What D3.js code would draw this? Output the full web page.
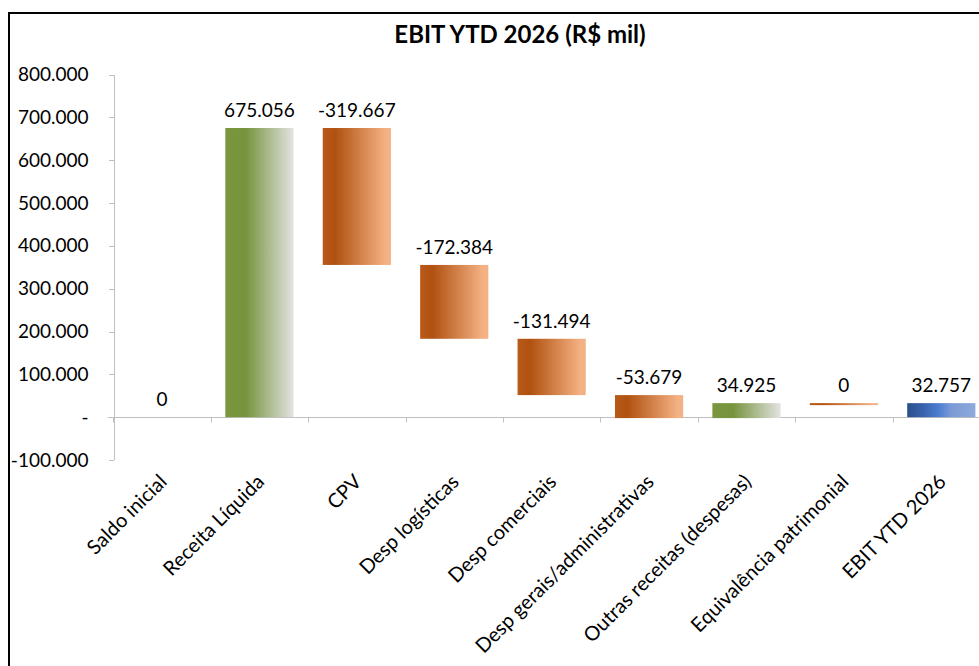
<!DOCTYPE html>
<html>

<head>
  <meta charset="utf-8">
  <script src="https://d3js.org/d3.v7.min.js"></script>
  <style>
    body {
      margin: 0;
      background: #ffffff;
      font-family: Lato, "Open Sans", sans-serif;
    }

    .axis path,
    .axis line {
      fill: none;
      stroke: #bfbfbf;
      shape-rendering: crispEdges;
    }

    .axis text {
      fill: #000;
      font-size: 19px;
      font-family: Lato, sans-serif;
    }

    .value-label {
      font-size: 19px;
      fill: #000;
    }
  </style>
</head>

<body>
  <div id="chart"></div>
  <script>
    // data (R$ mil)
    var categories = [
      "Saldo inicial",
      "Receita Líquida",
      "CPV",
      "Desp logísticas",
      "Desp comerciais",
      "Desp gerais/administrativas",
      "Outras receitas (despesas)",
      "Equivalência patrimonial",
      "EBIT YTD 2026"
    ];
    var values = [0, 675056, -319667, -172384, -131494, -53679, 34925, 0, 32757];
    var isTotal = [true, false, false, false, false, false, false, false, true];
    var yTicks = [-100000, 0, 100000, 200000, 300000, 400000, 500000, 600000, 700000, 800000];

    var W = 979, H = 666;

    var svg = d3.select("#chart")
      .append("svg")
      .attr("width", W)
      .attr("height", H);

    // outer frame (runs off the right / bottom edges)
    svg.append("rect")
      .attr("x", 9).attr("y", 13)
      .attr("width", W + 20).attr("height", H + 20)
      .attr("fill", "none")
      .attr("stroke", "#000")
      .attr("stroke-width", 2);

    svg.append("text")
      .attr("x", 520).attr("y", 43)
      .attr("text-anchor", "middle")
      .style("font-size", "24px")
      .style("font-weight", "bold")
      .text("EBIT YTD 2026 (R$ mil)");

    // build waterfall steps
    var run = 0;
    var steps = categories.map(function(c, i) {
      var start, end;
      if (isTotal[i]) {
        start = 0;
        end = values[i];
        run = values[i];
      } else {
        start = run;
        end = run + values[i];
        run = end;
      }
      var kind = isTotal[i] ? "total" : (values[i] > 0 ? "up" : "down");
      return { name: c, value: values[i], start: start, end: end, kind: kind };
    });

    var x = d3.scaleBand()
      .domain(categories)
      .range([113.3, 990])
      .paddingInner(0.3)
      .paddingOuter(0.15);

    var y = d3.scaleLinear()
      .domain([-100000, 800000])
      .range([460, 74.5]);

    var loc = d3.formatLocale({ decimal: ",", thousands: ".", grouping: [3], currency: ["R$", ""], minus: "-" });
    var fmt = loc.format(",.0f");
    var tickFmt = function(d) { return d === 0 ? "-" : fmt(d); };

    // gradients
    var defs = svg.append("defs");
    var grads = {
      up: [["0%", "#7a973f"], ["30%", "#77933c"], ["100%", "#e3e3e3"]],
      down: [["0%", "#b85a1a"], ["18%", "#b05110"], ["92%", "#f4b183"], ["100%", "#f4b183"]],
      total: [["0%", "#2b4f8c"], ["25%", "#3a64b0"], ["45%", "#4a7ccf"], ["65%", "#7b9bd6"], ["100%", "#8eaadc"]]
    };
    Object.keys(grads).forEach(function(k) {
      defs.append("linearGradient")
        .attr("id", "grad-" + k)
        .attr("x1", "0%").attr("y1", "0%")
        .attr("x2", "100%").attr("y2", "0%")
        .selectAll("stop")
        .data(grads[k])
        .enter().append("stop")
        .attr("offset", function(d) { return d[0]; })
        .attr("stop-color", function(d) { return d[1]; });
    });

    // y axis
    var yAxis = svg.append("g")
      .attr("class", "axis")
      .attr("transform", "translate(113.5,0)")
      .call(d3.axisLeft(y).tickValues(yTicks).tickFormat(tickFmt).tickSize(5).tickPadding(20));
    yAxis.select(".domain").attr("d", "M0.5," + y(-100000) + "V" + y(800000));

    // zero line with boundary ticks
    var zeroY = Math.round(y(0)) + 0.5;
    svg.append("line")
      .attr("x1", 108).attr("x2", W)
      .attr("y1", zeroY).attr("y2", zeroY)
      .attr("stroke", "#bfbfbf");
    svg.selectAll(".xtick")
      .data(categories)
      .enter().append("line")
      .attr("class", "xtick")
      .attr("x1", function(d) { return Math.round(x(d) - x.step() * 0.15) + 0.5; })
      .attr("x2", function(d) { return Math.round(x(d) - x.step() * 0.15) + 0.5; })
      .attr("y1", zeroY).attr("y2", zeroY + 5)
      .attr("stroke", "#bfbfbf");

    // bars
    svg.selectAll(".bar")
      .data(steps.filter(function(d) { return !(d.kind === "total" && d.value === 0); }))
      .enter().append("rect")
      .attr("class", "bar")
      .attr("x", function(d) { return x(d.name); })
      .attr("width", x.bandwidth())
      .attr("y", function(d) { return y(Math.max(d.start, d.end)); })
      .attr("height", function(d) { return Math.max(2, Math.abs(y(d.start) - y(d.end))); })
      .attr("fill", function(d) { return "url(#grad-" + d.kind + ")"; });

    // value labels
    svg.selectAll(".value-label")
      .data(steps)
      .enter().append("text")
      .attr("class", "value-label")
      .attr("text-anchor", "middle")
      .attr("x", function(d) { return x(d.name) + x.bandwidth() / 2; })
      .attr("y", function(d) { return y(Math.max(d.start, d.end)) - 11; })
      .text(function(d) { return fmt(d.value); });

    // category labels
    svg.selectAll(".cat-label")
      .data(categories)
      .enter().append("text")
      .attr("class", "cat-label")
      .attr("text-anchor", "end")
      .style("font-size", "20px")
      .attr("transform", function(d) {
        return "translate(" + (x(d) + x.bandwidth() / 2 + 6) + "," + 483 + ") rotate(-45)";
      })
      .text(function(d) { return d; });
  </script>
</body>

</html>
